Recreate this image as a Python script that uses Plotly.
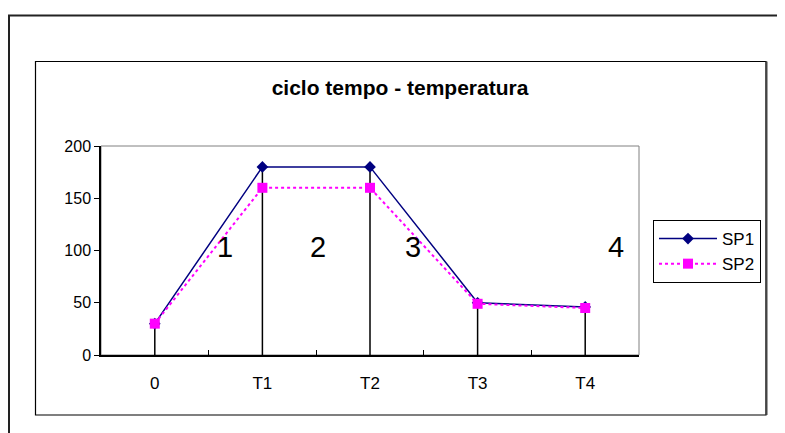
import plotly.graph_objects as go

categories = ["0", "T1", "T2", "T3", "T4"]
sp1 = [30, 180, 180, 50, 46]
sp2 = [30, 160, 160, 49, 45]
phase_labels = ["1", "2", "3", "4"]
phase_x = [0.65, 1.515, 2.4, 4.29]
phase_y = [103, 103, 103, 103]

OFF = 8  # page body margin of the browser
W, H = 785 - OFF, 433 - OFF
L, R, T, B = 101 - OFF, 639 - OFF, 146 - OFF, 355 - OFF  # plot area in pixels


def px(x):
    return (x - OFF - L) / (R - L)


def py(y):
    return (B - (y - OFF)) / (B - T)


# drop lines from each category down to the axis, at the highest series value
drop_x, drop_y = [], []
for c, a, b in zip(categories, sp1, sp2):
    drop_x += [c, c, None]
    drop_y += [0, max(a, b), None]

fig = go.Figure()
fig.add_trace(go.Scatter(x=drop_x, y=drop_y, mode="lines",
                         line=dict(color="black", width=1.5),
                         showlegend=False, hoverinfo="skip"))
fig.add_trace(go.Scatter(x=categories, y=sp1, name="SP1", mode="lines+markers",
                         line=dict(color="#000080", width=1.5),
                         marker=dict(symbol="diamond", size=9, color="#000080")))
fig.add_trace(go.Scatter(x=categories, y=sp2, name="SP2", mode="lines+markers",
                         line=dict(color="#FF00FF", width=2, dash="dot"),
                         marker=dict(symbol="square", size=10, color="#FF00FF")))

for t, x, y in zip(phase_labels, phase_x, phase_y):
    fig.add_annotation(x=x, y=y, xref="x", yref="y", text=t, showarrow=False,
                       font=dict(family="Arial", size=29, color="black"))

shapes = [
    # plot area frame (gray)
    dict(type="rect", xref="paper", yref="paper", x0=0, x1=1, y0=0, y1=1,
         line=dict(color="#808080", width=1), layer="below"),
    # inner chart box
    dict(type="rect", xref="paper", yref="paper", x0=px(35.5), x1=px(766), y0=py(415), y1=py(61.5),
         line=dict(color="black", width=1.2), layer="below"),
    dict(type="line", xref="paper", yref="paper", x0=px(766.5), x1=px(766.5), y0=py(415), y1=py(61.5),
         line=dict(color="#444444", width=2), layer="below"),
    # outer frame (left and top edges)
    dict(type="line", xref="paper", yref="paper", x0=px(9), x1=px(9), y0=py(440), y1=py(15.5),
         line=dict(color="#222222", width=2), layer="below"),
    dict(type="line", xref="paper", yref="paper", x0=px(8), x1=px(790), y0=py(15.5), y1=py(15.5),
         line=dict(color="#222222", width=2), layer="below"),
]

fig.update_layout(
    width=W, height=H,
    margin=dict(l=L, r=W - R, t=T, b=H - B, pad=0),
    paper_bgcolor="white", plot_bgcolor="white",
    font=dict(family="Arial", size=16, color="black"),
    title=dict(text="ciclo tempo - temperatura", x=(400 - OFF) / W, xanchor="center",
               y=1 - (88 - OFF) / H, yanchor="middle", xref="container", yref="container",
               font=dict(family="Arial", size=21, color="black", weight="bold")),
    shapes=shapes,
    showlegend=True,
    legend=dict(x=px(653), y=py(220), xanchor="left", yanchor="top",
                bgcolor="white", bordercolor="black", borderwidth=1,
                font=dict(family="Arial", size=17, color="black"),
                itemwidth=58, tracegroupgap=0),
    hovermode=False,
)
fig.update_xaxes(type="category", range=[-0.5, 4.5], tickson="boundaries",
                 ticks="inside", ticklen=5, tickcolor="black", tickwidth=1,
                 ticklabelstandoff=12,
                 showline=True, linecolor="black", linewidth=1.5,
                 showgrid=False, zeroline=False,
                 tickfont=dict(size=17, color="black"), fixedrange=True)
fig.update_yaxes(range=[0, 200], dtick=50, ticks="outside", ticklen=5,
                 tickcolor="black", tickwidth=1,
                 showline=True, linecolor="black", linewidth=1.5,
                 showgrid=False, zeroline=False,
                 tickfont=dict(size=16, color="black"), fixedrange=True)

fig.write_html("out.html")
